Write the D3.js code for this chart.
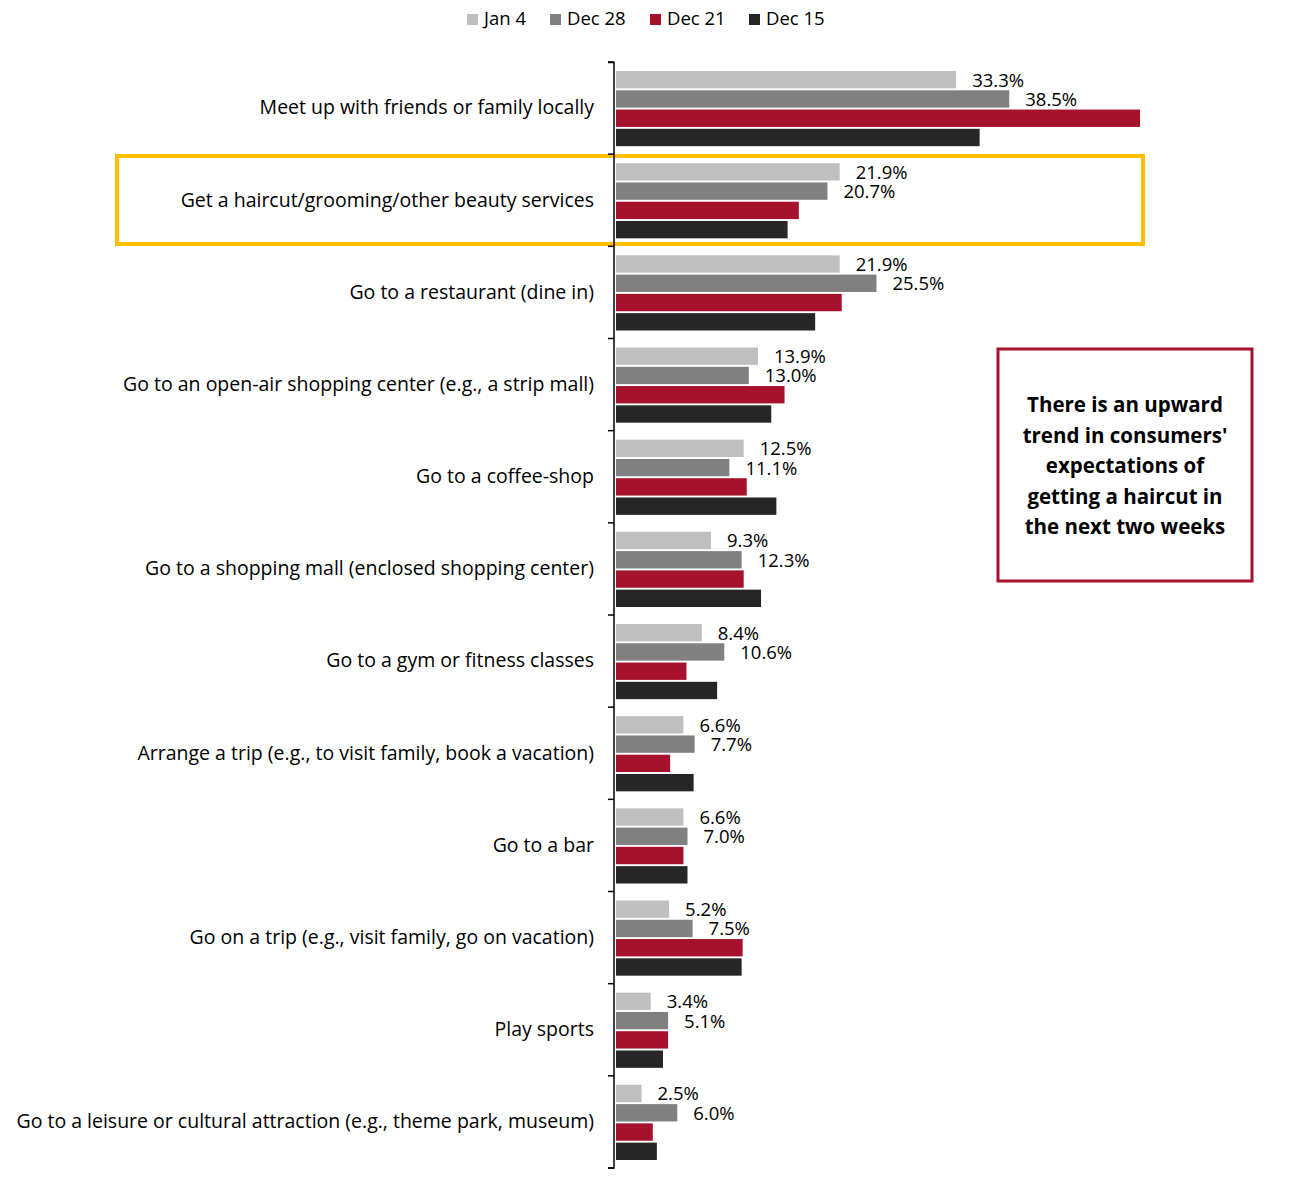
<!DOCTYPE html>
<html><head><meta charset="utf-8">
<script src="https://cdn.jsdelivr.net/npm/d3@7"></script>
<style>body{margin:0;background:#fff}svg{display:block}</style>
</head><body>
<svg id="chart" width="1309" height="1200"></svg>
<script>
const categories = [
  "Meet up with friends or family locally",
  "Get a haircut/grooming/other beauty services",
  "Go to a restaurant (dine in)",
  "Go to an open-air shopping center (e.g., a strip mall)",
  "Go to a coffee-shop",
  "Go to a shopping mall (enclosed shopping center)",
  "Go to a gym or fitness classes",
  "Arrange a trip (e.g., to visit family, book a vacation)",
  "Go to a bar",
  "Go on a trip (e.g., visit family, go on vacation)",
  "Play sports",
  "Go to a leisure or cultural attraction (e.g., theme park, museum)"
];
const seriesNames = ["Jan 4", "Dec 28", "Dec 21", "Dec 15"];
const jan4  = [33.3, 21.9, 21.9, 13.9, 12.5, 9.3, 8.4, 6.6, 6.6, 5.2, 3.4, 2.5];
const dec28 = [38.5, 20.7, 25.5, 13.0, 11.1, 12.3, 10.6, 7.7, 7.0, 7.5, 5.1, 6.0];
const dec21 = [51.3, 17.9, 22.1, 16.5, 12.8, 12.5, 6.9, 5.3, 6.6, 12.4, 5.1, 3.6];
const dec15 = [35.6, 16.8, 19.5, 15.2, 15.7, 14.2, 9.9, 7.6, 7.0, 12.3, 4.6, 4.0];
const labelled = ["Jan 4", "Dec 28"];
const colors = ["#BFBFBF", "#808080", "#A6112C", "#262626"];
const noteText = ["There is an upward", "trend in consumers'", "expectations of", "getting a haircut in", "the next two weeks"];

const seriesValues = [jan4, dec28, dec21, dec15];
const svg = d3.select("#chart");
const font = "'Open Sans', sans-serif";

const x = d3.scaleLinear().domain([0, 51.3]).range([616, 1140]);
const y = d3.scaleBand().domain(categories).range([62, 1168]).paddingInner(0).paddingOuter(0);
const inner = d3.scaleBand().domain(seriesNames).range([9, y.bandwidth() - 8]).paddingInner(0.1);

// highlight box
svg.append("rect").attr("x", 117).attr("y", 156).attr("width", 1026).attr("height", 88)
  .attr("fill", "none").attr("stroke", "#FFC000").attr("stroke-width", 4);

const groups = svg.append("g").selectAll("g").data(categories).join("g")
  .attr("transform", d => `translate(0,${y(d)})`);

seriesNames.forEach((s, si) => {
  groups.append("rect")
    .attr("x", x(0))
    .attr("y", inner(s))
    .attr("width", (d, i) => x(seriesValues[si][i]) - x(0))
    .attr("height", inner.bandwidth())
    .attr("fill", colors[si]);
  if (labelled.includes(s)) {
    groups.append("text")
      .attr("x", (d, i) => x(seriesValues[si][i]) + 16)
      .attr("y", inner(s) + inner.bandwidth() / 2 + 2)
      .attr("dominant-baseline", "middle")
      .attr("font-family", font).attr("font-size", 18.5).attr("fill", "#000")
      .text((d, i) => seriesValues[si][i].toFixed(1) + "%");
  }
});

// axis
const axis = d3.axisLeft(y).tickSize(0).tickPadding(20);
const ag = svg.append("g").attr("transform", "translate(614,0)").call(axis);
ag.select(".domain").attr("stroke", "#000").attr("stroke-width", 1.5).attr("d", "M-6,62.5H0V1168H-6");
ag.selectAll("text").attr("font-family", font).attr("font-size", 19.5).attr("fill", "#000");
// boundary tick marks
ag.selectAll(".btick").data(d3.range(categories.length + 1)).join("line")
  .attr("class", "btick")
  .attr("x1", -6).attr("x2", 0)
  .attr("y1", i => 62 + i * y.step()).attr("y2", i => 62 + i * y.step())
  .attr("stroke", "#000").attr("stroke-width", 1.5);

// legend
const legendX = [467, 550, 650, 749];
const lg = svg.append("g").selectAll("g").data(seriesNames).join("g")
  .attr("transform", (d, i) => `translate(${legendX[i]},14)`);
lg.append("rect").attr("width", 11).attr("height", 11).attr("fill", (d, i) => colors[i]);
lg.append("text").attr("x", 17).attr("y", 6.5).attr("dominant-baseline", "middle")
  .attr("font-family", font).attr("font-size", 18.5).attr("fill", "#000").text(d => d);

// note box
svg.append("rect").attr("x", 998).attr("y", 349).attr("width", 254).attr("height", 232)
  .attr("fill", "#fff").attr("stroke", "#A6112C").attr("stroke-width", 3);
svg.append("g").selectAll("text").data(noteText).join("text")
  .attr("x", 1125).attr("y", (d, i) => 407 + i * 30.5)
  .attr("text-anchor", "middle").attr("dominant-baseline", "middle")
  .attr("font-family", font).attr("font-weight", "bold").attr("font-size", 20.5).attr("fill", "#000")
  .text(d => d);
</script>
</body></html>
